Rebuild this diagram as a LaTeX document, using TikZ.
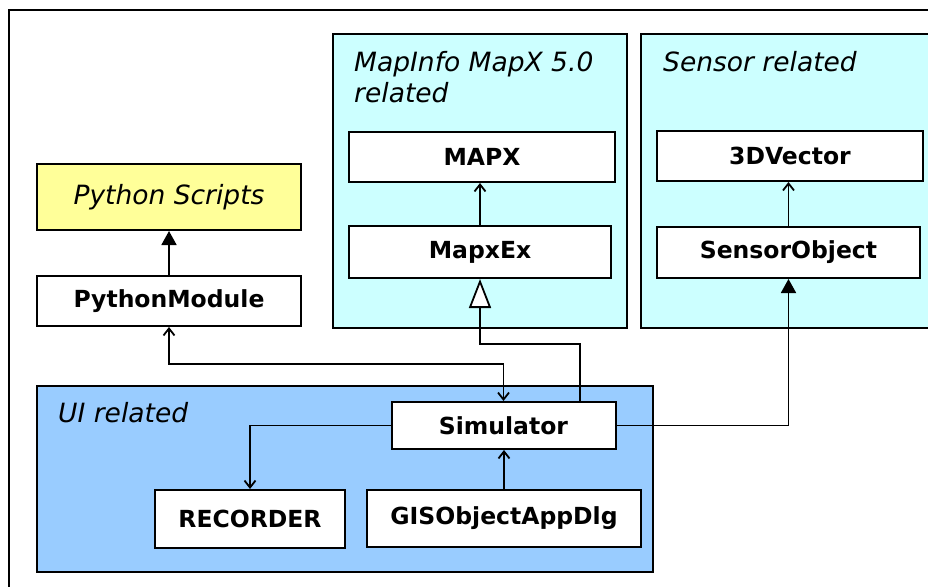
\documentclass[tikz,border=0pt]{standalone}
\usepackage{fontspec}
\setmainfont{DejaVu Sans}
\usetikzlibrary{arrows.meta}
\definecolor{scriptyellow}{HTML}{FFFF99}
\definecolor{libcyan}{HTML}{CCFFFF}
\definecolor{uiblue}{HTML}{99CCFF}
\begin{document}
\begin{tikzpicture}[x=1pt,y=-1pt,
  classbox/.style={draw=black, line width=2pt, fill=white, inner sep=0pt,
    font=\fontsize{23.5}{28}\selectfont\bfseries},
  groupbox/.style={draw=black, line width=2pt},
  italictext/.style={font=\fontsize{26.5}{31}\selectfont\itshape},
  grouplabel/.style={italictext, inner sep=0pt, anchor=base west},
  conn/.style={draw=black, line width=1.8pt},
  uses/.style={conn, -{Straight Barb[length=7pt,width=11pt]}},
  twoway/.style={conn, {Straight Barb[length=7pt,width=11pt]}-{Straight Barb[length=7pt,width=11pt]}},
  owns/.style={conn, -{Triangle[length=14pt,width=15pt]}},
  inherits/.style={conn, -{Triangle[open,length=29pt,width=22pt,fill=white]}}]

\useasboundingbox (0,0) rectangle (928,586);
\clip (0,0) rectangle (928,586);

% outer frame (runs off the right and bottom edges)
\draw[groupbox] (9,10) rectangle (960,620);

% package groups
\draw[groupbox, fill=libcyan] (333,34) rectangle (627,328);
\draw[groupbox, fill=libcyan] (641,34) rectangle (960,328);
\draw[groupbox, fill=uiblue]  (37,386) rectangle (653,572);

\node[grouplabel] (lblmap1) at (354,71) {MapInfo MapX 5.0};
\node[grouplabel] (lblmap2) at (354,102) {related};
\node[grouplabel] (lblsensor) at (663,71) {Sensor related};
\node[grouplabel] (lblui) at (58,422) {UI related};

% classes
\node[classbox, fill=scriptyellow, minimum width=264pt, minimum height=66pt,
      italictext] (pyscripts) at (169,197) {Python Scripts};
\node[classbox, minimum width=264pt, minimum height=50pt] (pymodule) at (169,301) {PythonModule};
\node[classbox, minimum width=266pt, minimum height=50pt] (mapx) at (482,157) {MAPX};
\node[classbox, minimum width=262pt, minimum height=52pt] (mapxex) at (480,252) {MapxEx};
\node[classbox, minimum width=266pt, minimum height=50pt] (vec) at (790,156) {3DVector};
\node[classbox, minimum width=263pt, minimum height=51pt] (sensor) at (788.5,252.5) {SensorObject};
\node[classbox, minimum width=224pt, minimum height=47pt] (sim) at (503.5,425.5) {Simulator};
\node[classbox, minimum width=190pt, minimum height=58pt] (rec) at (250,519) {RECORDER};
\node[classbox, minimum width=274pt, minimum height=57pt] (gis) at (504,518.5) {GISObjectAppDlg};

% bend points
\coordinate (jpy) at (300,364);
\coordinate (jmap) at (530,344);

% connectors
\draw[owns] (pymodule.north) -- (pymodule.north |- pyscripts.south);
\draw[uses] (mapxex.north) -- (mapxex.north |- mapx.south);
\draw[uses] (sensor.north) -- (sensor.north |- vec.south);
\draw[twoway] (pymodule.south) |- (jpy) -| (sim.north);
\draw[inherits] ([xshift=76.5pt]sim.north) |- (jmap) -| (mapxex.south);
\draw[owns] (sim.east) -| (sensor.south);
\draw[uses] (sim.west) -| (rec.north);
\draw[uses] (gis.north) -- (gis.north |- sim.south);
\end{tikzpicture}
\end{document}
